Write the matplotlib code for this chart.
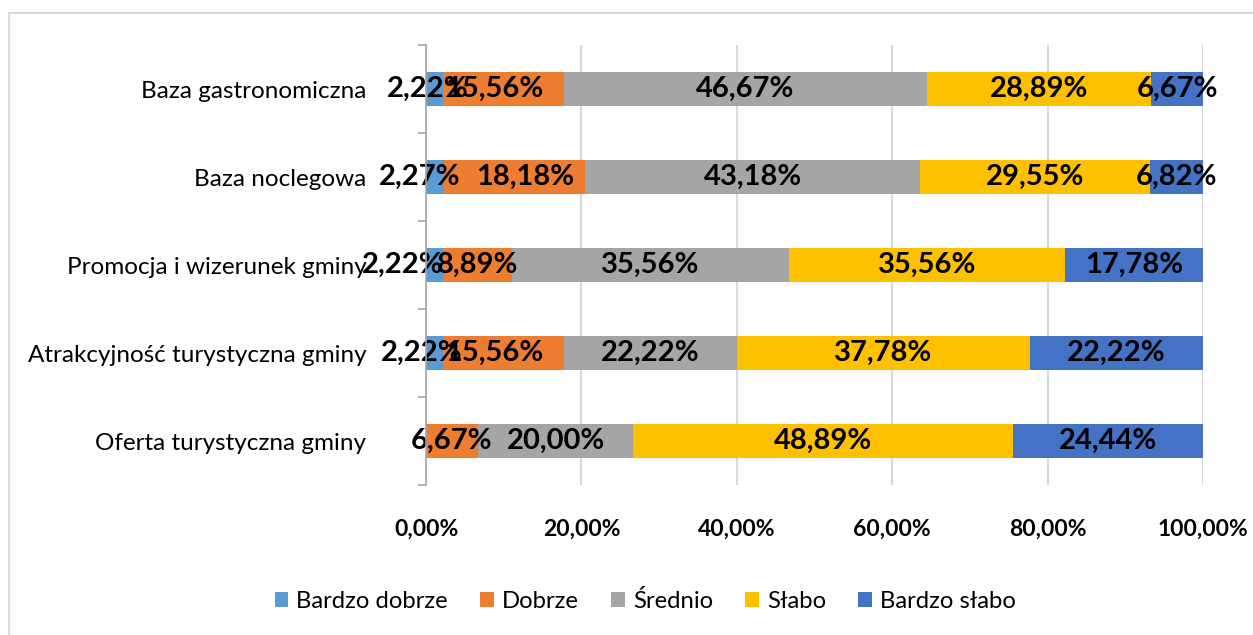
import numpy as np
import matplotlib.pyplot as plt
from matplotlib.patches import Rectangle

plt.rcParams['font.family'] = ['Lato', 'DejaVu Sans']

# categories, top to bottom
categories = ["Baza gastronomiczna", "Baza noclegowa", "Promocja i wizerunek gminy",
              "Atrakcyjność turystyczna gminy", "Oferta turystyczna gminy"]
series = ["Bardzo dobrze", "Dobrze", "Średnio", "Słabo", "Bardzo słabo"]

bardzo_dobrze = [2.22, 2.27, 2.22, 2.22, 0.00]
dobrze = [15.56, 18.18, 8.89, 15.56, 6.67]
srednio = [46.67, 43.18, 35.56, 22.22, 20.00]
slabo = [28.89, 29.55, 35.56, 37.78, 48.89]
bardzo_slabo = [6.67, 6.82, 17.78, 22.22, 24.44]

colors = ["#5B9BD5", "#ED7D31", "#A5A5A5", "#FFC000", "#4472C4"]

values = [bardzo_dobrze, dobrze, srednio, slabo, bardzo_slabo]

# label nudges (points) like Excel's crowded-label placement: (series, category) -> dx
nudge = {(0, 0): -5, (1, 0): -7, (0, 1): -11, (1, 1): 8,
         (0, 2): -23, (0, 3): -9, (1, 3): -7}

fig = plt.figure(figsize=(12.53, 6.35), dpi=100)
ax = fig.add_axes([0.340, 0.236, 0.620, 0.693])

# chart border
fig.patches.append(Rectangle((9 / 1253, -0.01), 1.02, 1 - 13 / 635 + 0.01,
                             transform=fig.transFigure, fill=False,
                             edgecolor="#D9D9D9", linewidth=1.5))

y = np.arange(len(categories))[::-1]
left = np.zeros(len(categories))
for si, (name, vals, col) in enumerate(zip(series, values, colors)):
    vals = np.array(vals)
    ax.barh(y, vals, left=left, height=0.39, color=col, label=name, zorder=3)
    for ci, (yi, l, v) in enumerate(zip(y, left, vals)):
        if v > 0:
            ax.annotate(f"{v:.2f}%".replace(".", ","), (l + v / 2, yi),
                        xytext=(nudge.get((si, ci), 0), 0), textcoords="offset points",
                        ha="center", va="center", fontsize=21, fontweight="bold",
                        color="black", zorder=4)
    left += vals

ax.set_xlim(0, 100)
ax.set_ylim(-0.5, 4.5)
ax.set_xticks(np.arange(0, 101, 20))
ax.set_xticklabels([f"{v:.2f}%".replace(".", ",") for v in np.arange(0, 101, 20)],
                   fontsize=16.5, fontweight="bold")
ax.tick_params(axis="x", length=0, pad=24)
ax.set_yticks(y)
ax.set_yticklabels(categories, fontsize=17.5)
ax.tick_params(axis="y", length=0, pad=43)
ax.set_yticks(np.arange(-0.5, 5, 1), minor=True)
ax.tick_params(axis="y", which="minor", length=6, color="#A6A6A6", width=1.2)
ax.grid(axis="x", color="#D9D9D9", linewidth=1.5, zorder=0)
for s in ["top", "right", "bottom"]:
    ax.spines[s].set_visible(False)
ax.spines["left"].set_color("#A6A6A6")
ax.spines["left"].set_linewidth(1.2)
ax.spines["left"].set_zorder(5)

fig.legend(loc="center", bbox_to_anchor=(0.515, 0.053), ncol=5, frameon=False,
           fontsize=17.2, handlelength=0.58, handleheight=0.58, columnspacing=1.35,
           handletextpad=0.33)

fig.savefig("out.png", dpi=100)
